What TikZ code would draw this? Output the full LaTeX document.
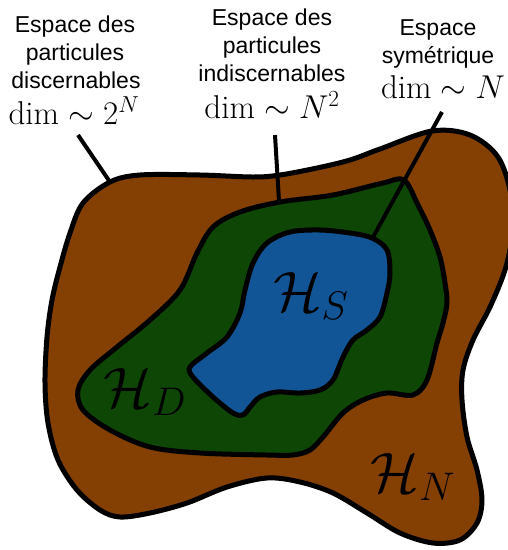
\RequirePackage{fix-cm}
\documentclass[tikz,border=0pt]{standalone}
\usepackage{fontspec}
\newfontfamily\labelfont{Liberation Sans}
\definecolor{brownfill}{RGB}{131,64,2}
\definecolor{greenfill}{RGB}{14,70,5}
\definecolor{bluefill}{RGB}{17,85,150}
\begin{document}
\begin{tikzpicture}[x=1pt,y=-1pt,
  region/.style={draw=black,line width=5pt,line join=round},
  leader/.style={draw=black,line width=4pt},
  txt/.style={inner sep=0pt,anchor=base,font=\labelfont\fontsize{23}{28}\selectfont},
  dimtxt/.style={inner sep=0pt,anchor=base,font=\fontsize{33}{38}\selectfont},
  hlabel/.style={inner sep=0pt,font=\fontsize{57}{62}\selectfont}]
\useasboundingbox (0,0) rectangle (508,550);
\clip (0,0) rectangle (508,550);
% outer region
\path[region,fill=brownfill] plot[smooth cycle,tension=0.55] coordinates {
 (110,182) (140,175) (200,175) (253,177) (280,175) (317,168) (350,160) (380,149) (432,131) (470,135) (498,157) (511,195) (512,235) (505,270) (490,307) (473,340) (463,370) (462,400) (467,437) (477,470) (482,500) (477,523) (460,540) (433,543) (400,533) (367,513) (333,493) (300,482) (267,478) (227,487) (187,503) (150,513) (120,517) (100,510) (77,490) (58,460) (48,423) (45,383) (47,337) (52,300) (60,267) (70,233) (83,203)};
% middle region
\path[region,fill=greenfill] plot[smooth cycle,tension=0.55] coordinates {
 (404,180) (418,205) (430,230) (440,257) (445,283) (447,303) (443,323) (437,343) (427,380) (413,395) (387,393) (363,400) (343,413) (323,437) (310,450) (293,455) (267,455) (200,453) (150,447) (110,430) (83,410) (78,390) (90,370) (117,347) (150,320) (180,290) (197,253) (213,227) (240,212) (280,202) (333,195) (383,183)};
% inner region
\path[region,fill=bluefill] plot[smooth cycle,tension=0.55] coordinates {
 (372,238) (387,250) (390,273) (387,293) (380,317) (367,330) (353,340) (343,357) (333,380) (320,390) (300,393) (277,392) (260,397) (250,407) (243,415) (233,413) (213,397) (193,377) (190,367) (207,353) (227,337) (240,313) (245,290) (253,263) (267,243) (290,232) (320,230) (350,233)};
% region labels
\node[hlabel] (hs) at (311,296) {$\mathcal{H}_S$};
\node[hlabel] (hd) at (145,392) {$\mathcal{H}_D$};
\node[hlabel] (hn) at (413,477) {$\mathcal{H}_N$};
% left text
\node[txt] (l1) at (75,32) {Espace des};
\node[txt] (l2) at (75,60) {particules};
\node[txt] (l3) at (76,88) {discernables};
\node[dimtxt] (l4) at (74,124) {$\dim\sim 2^N$};
% middle text
\node[txt] (m1) at (272,25) {Espace des};
\node[txt] (m2) at (272,53) {particules};
\node[txt] (m3) at (272,81) {indiscernables};
\node[dimtxt] (m4) at (272,118) {$\dim\sim N^2$};
% right text
\node[txt] (r1) at (438,35) {Espace};
\node[txt] (r2) at (438,63) {symétrique};
\node[dimtxt] (r3) at (443,98) {$\dim\sim N$};
% leader lines
\coordinate (la) at (78,135);
\coordinate (lb) at (110,182);
\coordinate (ma) at (275,135);
\coordinate (mb) at (279,201);
\coordinate (ra) at (442,112);
\coordinate (rb) at (372,239);
\draw[leader] (la) -- (lb);
\draw[leader] (ma) -- (mb);
\draw[leader] (ra) -- (rb);
\end{tikzpicture}
\end{document}
